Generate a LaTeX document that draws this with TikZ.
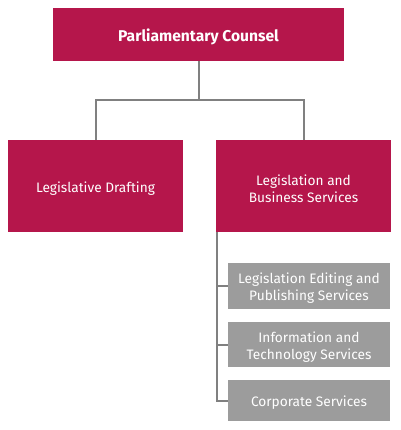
\documentclass[tikz,border=0pt]{standalone}
\usepackage{fontspec}
\setmainfont{Fira Sans}
\definecolor{crim}{HTML}{B5164B}
\definecolor{gbox}{HTML}{9C9C9C}
\definecolor{gline}{HTML}{808080}
\newcommand\lowr[1]{\raisebox{-2.5pt}[\height][\depth]{#1}}
\begin{document}
\begin{tikzpicture}[x=1pt,y=-1pt,
  redbox/.style={fill=crim,text=white,align=center,inner sep=0pt,font=\fontsize{13.7}{17}\selectfont},
  greybox/.style={fill=gbox,text=white,align=center,inner sep=0pt,minimum width=162pt,font=\fontsize{13.7}{17}\selectfont},
  conn/.style={draw=gline,line width=2pt}]
\useasboundingbox (0,0) rectangle (400,430);
\node[redbox,minimum width=291pt,minimum height=53pt,font=\bfseries\fontsize{15.6}{19}\selectfont] (pc) at (198.5,34.5) {\lowr{Parliamentary Counsel}};
\node[redbox,minimum width=175pt,minimum height=92pt] (ld) at (95.5,186) {\lowr{Legislative Drafting}};
\node[redbox,minimum width=175pt,minimum height=92pt] (lbs) at (303.5,186) {\lowr{Legislation and}\\\lowr{Business Services}};
\node[greybox,minimum height=46pt] (g1) at (309,286) {\lowr{Legislation Editing and}\\\lowr{Publishing Services}};
\node[greybox,minimum height=45pt] (g2) at (309,344.5) {\lowr{Information and}\\\lowr{Technology Services}};
\node[greybox,minimum height=41pt] (g3) at (309,400.5) {\lowr{Corporate Services}};
\coordinate (mid) at (198.5,100);
\coordinate (spine) at ([xshift=1pt]lbs.south west);
\draw[conn] (pc.south) -- (mid);
\draw[conn] (mid) -| (ld.north);
\draw[conn] (mid) -| (lbs.north);
\draw[conn] (spine) |- (g3.west);
\draw[conn] (spine |- g1.west) -- (g1.west);
\draw[conn] (spine |- g2.west) -- (g2.west);
\end{tikzpicture}
\end{document}
